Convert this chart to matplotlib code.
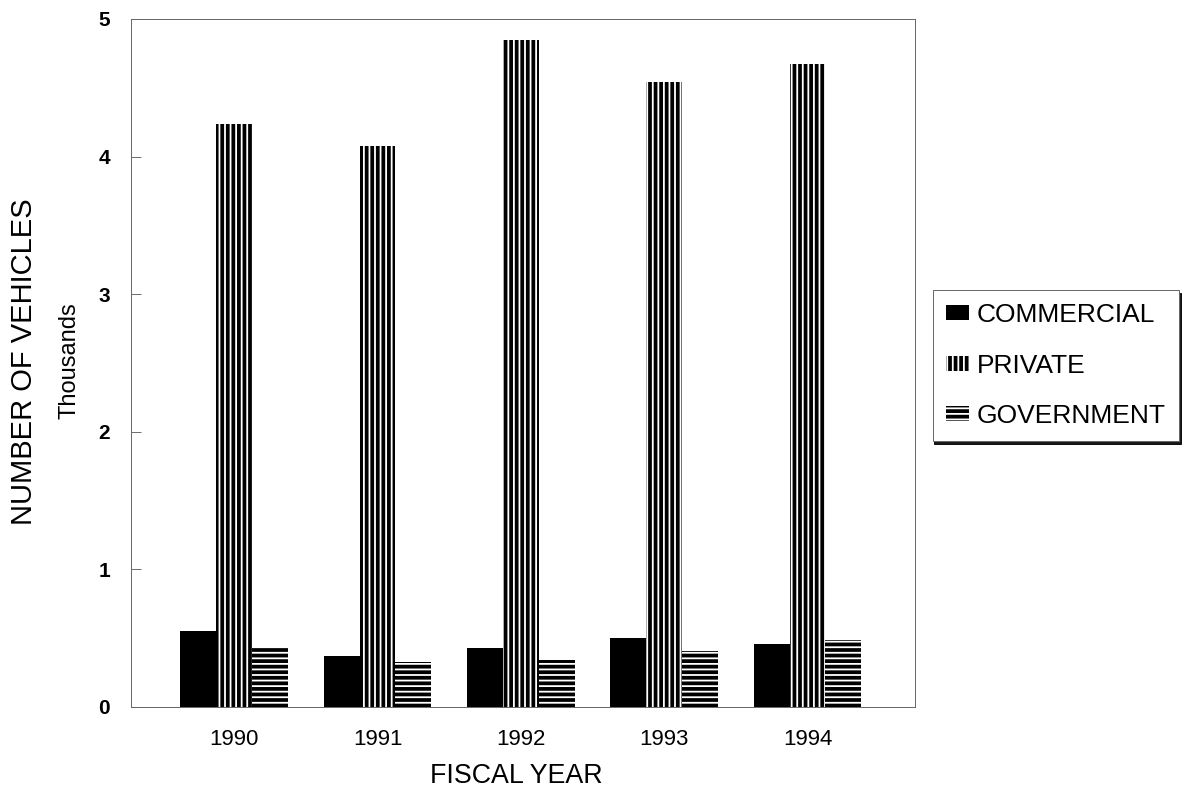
import matplotlib
matplotlib.use("Agg")
import matplotlib.pyplot as plt
import numpy as np

plt.rcParams['font.family'] = ['Liberation Sans', 'DejaVu Sans']
plt.rcParams['hatch.linewidth'] = 1.3

years = ['1990', '1991', '1992', '1993', '1994']
commercial = [0.55, 0.37, 0.43, 0.50, 0.46]
private = [4.24, 4.08, 4.85, 4.54, 4.67]
government = [0.43, 0.33, 0.34, 0.41, 0.49]
series_names = ['COMMERCIAL', 'PRIVATE', 'GOVERNMENT']
yticks = [0, 1, 2, 3, 4, 5]

fig = plt.figure(figsize=(11.85, 7.92), dpi=100)
ax = fig.add_axes([131/1185, 1-707/792, (915-131)/1185, (707-19)/792])

x = np.arange(len(years))
w = 0.25
b1 = ax.bar(x - w, commercial, w, color='black', linewidth=0, label=series_names[0])
b2 = ax.bar(x, private, w, color='black', edgecolor='white', hatch='|||', linewidth=0, label=series_names[1])
b3 = ax.bar(x + w, government, w, color='black', edgecolor='white', hatch='---', linewidth=0, label=series_names[2])

ax.set_xlim(-0.72, 4.75)
ax.set_ylim(0, 5)
ax.set_yticks(yticks)
ax.set_yticklabels([str(t) for t in yticks], fontsize=15, fontweight='bold')
ax.set_xticks(x)
ax.set_xticklabels(years, fontsize=16)
ax.tick_params(axis='y', direction='in', length=7, width=0.6, color='#555555', pad=15)
ax.tick_params(axis='x', length=0, pad=16)
for s in ax.spines.values():
    s.set_linewidth(0.7)
    s.set_color('#666666')

fig.text(516/1185, 1-776/792, 'FISCAL YEAR', fontsize=19.3, ha='center', va='center')
fig.text(24/1185, 1-362/792, 'NUMBER OF VEHICLES', rotation=90, fontsize=21, ha='center', va='center')
fig.text(69/1185, 1-361/792, 'Thousands', rotation=90, fontsize=17, ha='center', va='center')

leg = fig.legend(handles=[b1, b2, b3], loc='upper left', bbox_to_anchor=(933/1185, 1-290/792),
                 fontsize=19, frameon=True, fancybox=False,
                 shadow={'ox': 1, 'oy': -2, 'color': 'black', 'alpha': 0.9},
                 handlelength=0.87, handleheight=0.5, handletextpad=0.3,
                 labelspacing=1.0, borderpad=0.5, borderaxespad=0)
leg.get_frame().set_edgecolor('#666666')
leg.get_frame().set_linewidth(0.7)

fig.savefig('out.png', dpi=100, facecolor='white')
